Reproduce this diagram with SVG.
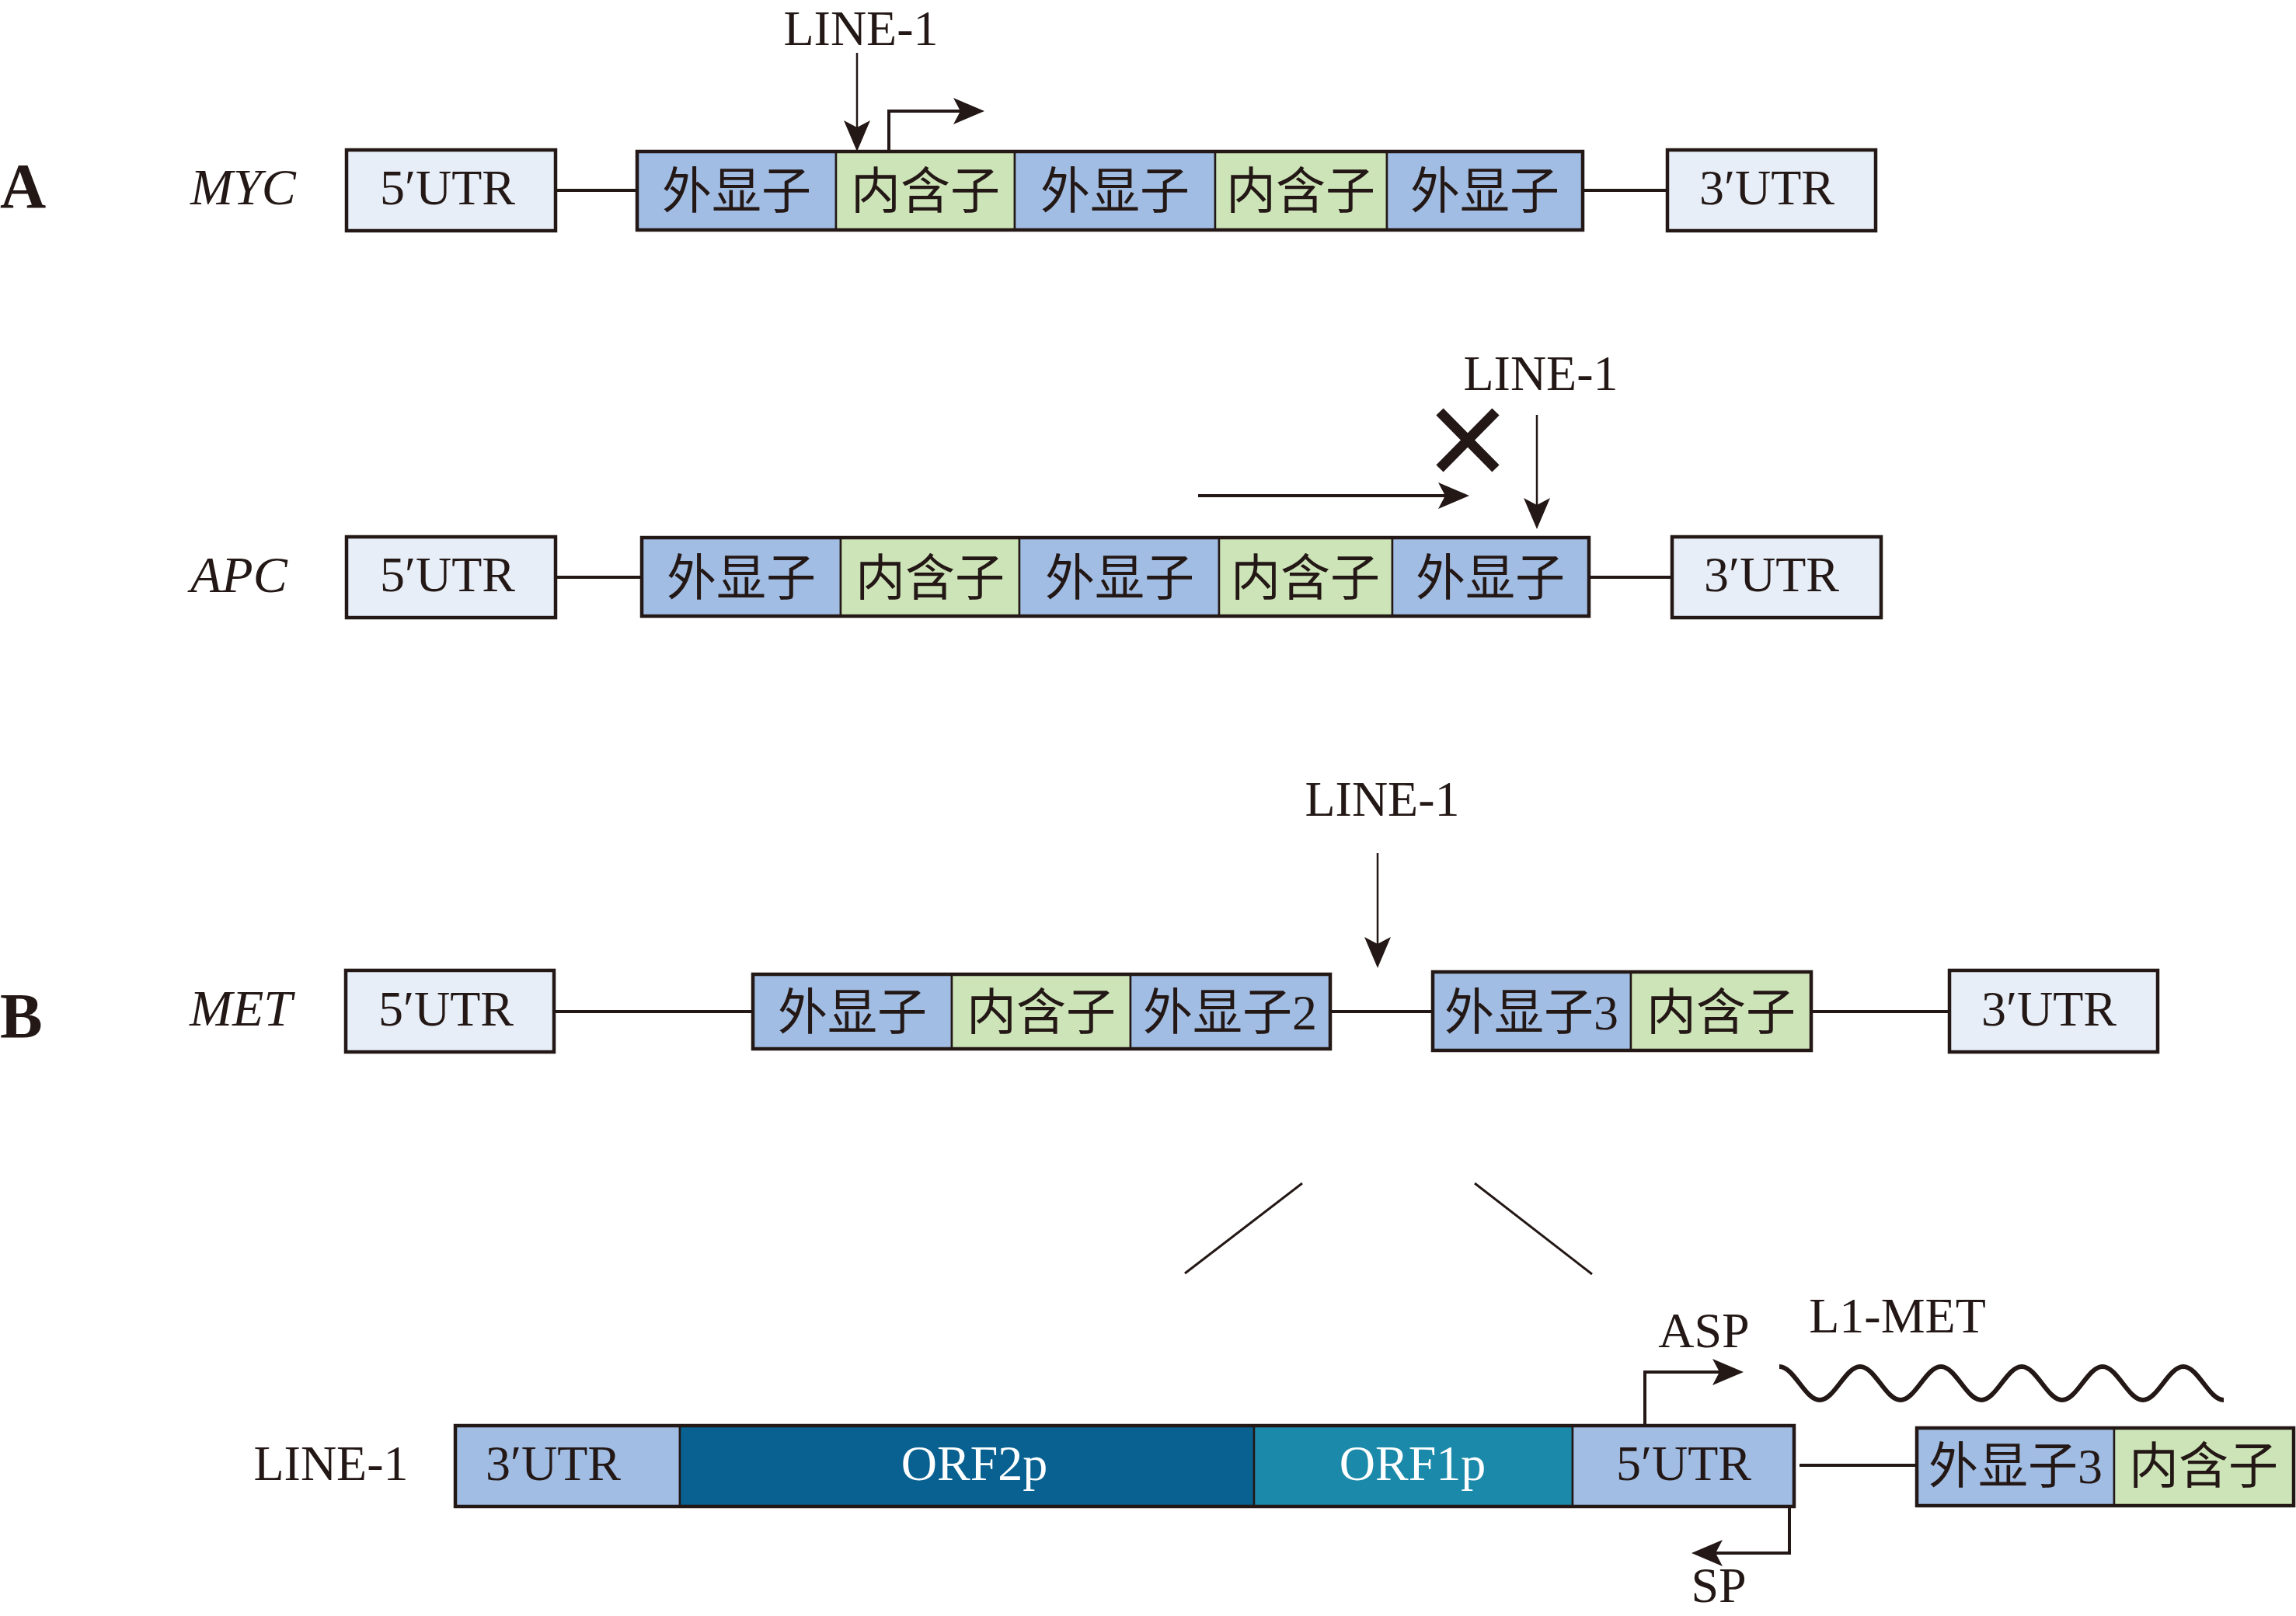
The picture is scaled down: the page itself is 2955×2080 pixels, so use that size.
<svg xmlns="http://www.w3.org/2000/svg" width="2955" height="2080" viewBox="0 0 2955 2080">
<style>
.t{font-family:"Liberation Serif","Noto Sans CJK SC",serif;font-size:64px;fill:#231815;text-anchor:middle}
.cn{font-family:"Liberation Serif","Noto Sans CJK SC",sans-serif;font-size:64px;fill:#231815;text-anchor:middle}
.it{font-family:"Liberation Serif",serif;font-style:italic;font-size:66px;fill:#231815}
.lab{font-family:"Liberation Serif",serif;font-weight:bold;font-size:82px;fill:#231815}
.w{fill:#ffffff}
.utr{fill:#e7eef8;stroke:#231815;stroke-width:4.5}
.ex{fill:#a1bde3;stroke:#231815;stroke-width:2.5}
.in{fill:#cde4b8;stroke:#231815;stroke-width:2.5}
.o2{fill:#086190;stroke:#231815;stroke-width:2.5}
.o1{fill:#1b89aa;stroke:#231815;stroke-width:2.5}
.frame{fill:none;stroke:#231815;stroke-width:4.5}
.ln{fill:none;stroke:#231815;stroke-width:4}
.thin{fill:none;stroke:#231815;stroke-width:2.5}
</style>
<defs>
<marker id="ah" viewBox="0 0 40 34" refX="30" refY="17" markerWidth="40" markerHeight="34" markerUnits="userSpaceOnUse" orient="auto">
<path d="M0,0 L40,17 L0,34 L9,17 Z" fill="#231815"/>
</marker>
</defs>

<!-- labels -->
<text class="lab" x="0" y="267">A</text>
<text class="lab" x="0" y="1335">B</text>
<text class="it" x="245" y="263">MYC</text>
<text class="it" x="245" y="762">APC</text>
<text class="it" x="244" y="1320">MET</text>

<!-- connectors -->
<g id="connectors">
<line class="ln" x1="715" y1="245" x2="820" y2="245"/>
<line class="ln" x1="2037" y1="245" x2="2146" y2="245"/>
<line class="ln" x1="715" y1="743" x2="826" y2="743"/>
<line class="ln" x1="2045" y1="743" x2="2152" y2="743"/>
<line class="ln" x1="713" y1="1302" x2="969" y2="1302"/>
<line class="ln" x1="1712" y1="1302" x2="1844" y2="1302"/>
<line class="ln" x1="2331" y1="1302" x2="2509" y2="1302"/>
<line class="ln" x1="2316" y1="1886" x2="2467" y2="1886"/>
<line class="thin" x1="1103" y1="68" x2="1103" y2="185" marker-end="url(#ah)"/>
<path class="ln" d="M1144,195 V143 H1257" marker-end="url(#ah)"/>
<line class="ln" x1="1542" y1="638" x2="1881" y2="638" marker-end="url(#ah)"/>
<line class="thin" x1="1978" y1="534" x2="1978" y2="671" marker-end="url(#ah)"/>
<line class="thin" x1="1773" y1="1098" x2="1773" y2="1236" marker-end="url(#ah)"/>
<path class="ln" d="M2117,1835 V1766 H2234" marker-end="url(#ah)"/>
<path class="ln" d="M2303,1939 V1999 H2187" marker-end="url(#ah)"/>
<line class="ln" x1="1853" y1="530" x2="1925" y2="603" style="stroke-width:13"/>
<line class="ln" x1="1925" y1="530" x2="1853" y2="603" style="stroke-width:13"/>
<line class="thin" x1="1676" y1="1523" x2="1525" y2="1639" style="stroke-width:3"/>
<line class="thin" x1="1898" y1="1523" x2="2049" y2="1640" style="stroke-width:3"/>
<path class="ln" style="stroke-width:6" d="M2290,1759 c19,0 33,43 52,43 s33,-43 52,-43 s33,43 52,43 s33,-43 52,-43 s33,43 52,43 s33,-43 52,-43 s33,43 52,43 s33,-43 52,-43 s33,43 52,43 s33,-43 52,-43 s33,43 52,43"/>
</g>

<!-- texts near arrows -->
<text class="t" x="1108" y="58">LINE-1</text>
<text class="t" x="1983" y="502">LINE-1</text>
<text class="t" x="1779" y="1050">LINE-1</text>
<text class="t" x="2193" y="1734">ASP</text>
<text class="t" x="2442" y="1715">L1-MET</text>
<text class="t" x="2212" y="2062">SP</text>
<text class="t" x="426" y="1905">LINE-1</text>

<!-- Row A: MYC -->
<g id="myc-5utr"><rect class="utr" x="446" y="193" width="269" height="104"/><text class="t" x="576" y="263">5′UTR</text></g>
<g id="myc-chain">
<rect class="ex" x="820" y="195" width="256" height="101"/><text class="cn" x="948" y="268">外显子</text>
<rect class="in" x="1076" y="195" width="230" height="101"/><text class="cn" x="1191" y="268">内含子</text>
<rect class="ex" x="1306" y="195" width="258" height="101"/><text class="cn" x="1435" y="268">外显子</text>
<rect class="in" x="1564" y="195" width="221" height="101"/><text class="cn" x="1674" y="268">内含子</text>
<rect class="ex" x="1785" y="195" width="252" height="101"/><text class="cn" x="1911" y="268">外显子</text>
<rect class="frame" x="820" y="195" width="1217" height="101"/>
</g>
<g id="myc-3utr"><rect class="utr" x="2146" y="193" width="268" height="104"/><text class="t" x="2274" y="263">3′UTR</text></g>

<!-- Row APC -->
<g id="apc-5utr"><rect class="utr" x="446" y="691" width="269" height="104"/><text class="t" x="576" y="761">5′UTR</text></g>
<g id="apc-chain">
<rect class="ex" x="826" y="692" width="256" height="101"/><text class="cn" x="954" y="766">外显子</text>
<rect class="in" x="1082" y="692" width="230" height="101"/><text class="cn" x="1197" y="766">内含子</text>
<rect class="ex" x="1312" y="692" width="257" height="101"/><text class="cn" x="1441" y="766">外显子</text>
<rect class="in" x="1569" y="692" width="223" height="101"/><text class="cn" x="1680" y="766">内含子</text>
<rect class="ex" x="1792" y="692" width="253" height="101"/><text class="cn" x="1918" y="766">外显子</text>
<rect class="frame" x="826" y="692" width="1219" height="101"/>
</g>
<g id="apc-3utr"><rect class="utr" x="2152" y="691" width="269" height="104"/><text class="t" x="2280" y="761">3′UTR</text></g>

<!-- Row MET -->
<g id="met-5utr"><rect class="utr" x="445" y="1249" width="268" height="105"/><text class="t" x="574" y="1320">5′UTR</text></g>
<g id="met-chain1">
<rect class="ex" x="969" y="1254" width="256" height="96"/><text class="cn" x="1097" y="1325">外显子</text>
<rect class="in" x="1225" y="1254" width="230" height="96"/><text class="cn" x="1340" y="1325">内含子</text>
<rect class="ex" x="1455" y="1254" width="257" height="96"/><text class="cn" x="1583" y="1325">外显子2</text>
<rect class="frame" x="969" y="1254" width="743" height="96"/>
</g>
<g id="met-chain2">
<rect class="ex" x="1844" y="1251" width="255" height="101"/><text class="cn" x="1971" y="1325">外显子3</text>
<rect class="in" x="2099" y="1251" width="232" height="101"/><text class="cn" x="2215" y="1325">内含子</text>
<rect class="frame" x="1844" y="1251" width="487" height="101"/>
</g>
<g id="met-3utr"><rect class="utr" x="2509" y="1249" width="268" height="105"/><text class="t" x="2637" y="1320">3′UTR</text></g>

<!-- Row LINE-1 -->
<g id="l1-element">
<rect class="ex" x="586" y="1835" width="289" height="104"/><text class="t" x="712" y="1905">3′UTR</text>
<rect class="o2" x="875" y="1835" width="739" height="104"/><text class="t w" x="1254" y="1905">ORF2p</text>
<rect class="o1" x="1614" y="1835" width="410" height="104"/><text class="t w" x="1818" y="1905">ORF1p</text>
<rect class="ex" x="2024" y="1835" width="285" height="104"/><text class="t" x="2167" y="1905">5′UTR</text>
<rect class="frame" x="586" y="1835" width="1723" height="104"/>
</g>
<g id="l1-met-chain">
<rect class="ex" x="2467" y="1838" width="254" height="100"/><text class="cn" x="2594" y="1909">外显子3</text>
<rect class="in" x="2721" y="1838" width="231" height="100"/><text class="cn" x="2836" y="1909">内含子</text>
<rect class="frame" x="2467" y="1838" width="485" height="100"/>
</g>
</svg>
